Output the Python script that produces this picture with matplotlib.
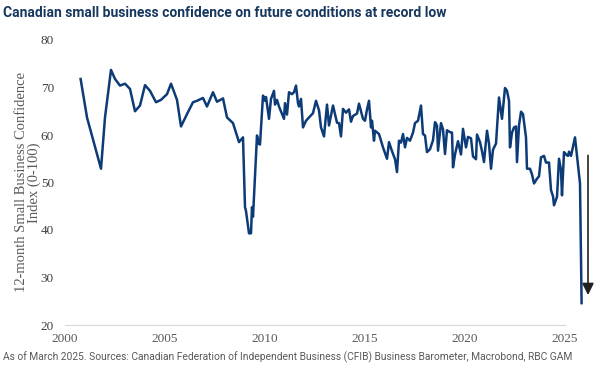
import matplotlib
matplotlib.use("Agg")
import matplotlib.pyplot as plt
import numpy as np

# ---- data (decimal year, index value) ----
years = [
    2000.78, 2001.1, 2001.8, 2002.0, 2002.3, 2002.5, 2002.75, 2003.0, 2003.25, 2003.5,
    2003.75, 2004.0, 2004.25, 2004.55, 2004.8, 2005.1, 2005.3, 2005.6, 2005.8, 2006.1,
    2006.4, 2006.6, 2006.9, 2007.1, 2007.4, 2007.6, 2007.9, 2008.1, 2008.4, 2008.7,
    2008.9, 2009.0, 2009.05, 2009.2, 2009.3, 2009.35, 2009.4, 2009.6, 2009.7, 2009.75,
    2009.9, 2010.0, 2010.05, 2010.2, 2010.3, 2010.45, 2010.5, 2010.6, 2010.7, 2010.95,
    2011.0, 2011.1, 2011.2, 2011.35, 2011.45, 2011.55, 2011.65, 2011.7, 2011.8, 2011.9,
    2012.05, 2012.2, 2012.4, 2012.55, 2012.7, 2012.8, 2012.95, 2013.1, 2013.2, 2013.4,
    2013.6, 2013.7, 2013.8, 2013.9, 2014.05, 2014.2, 2014.3, 2014.4, 2014.6, 2014.7,
    2014.9, 2015.0, 2015.1, 2015.2, 2015.3, 2015.35, 2015.45, 2015.5, 2015.7, 2015.9,
    2016.1, 2016.2, 2016.35, 2016.5, 2016.6, 2016.7, 2016.8, 2016.9, 2017.0, 2017.1,
    2017.25, 2017.4, 2017.5, 2017.65, 2017.8, 2017.9, 2018.0, 2018.1, 2018.25, 2018.4,
    2018.5, 2018.6, 2018.65, 2018.8, 2018.9, 2019.0, 2019.1, 2019.25, 2019.35, 2019.4,
    2019.5, 2019.65, 2019.8, 2019.9, 2020.05, 2020.15, 2020.3, 2020.4, 2020.55, 2020.6,
    2020.75, 2020.85, 2020.95, 2021.1, 2021.2, 2021.3, 2021.4, 2021.55, 2021.7, 2021.85,
    2022.0, 2022.1, 2022.2, 2022.25, 2022.35, 2022.45, 2022.55, 2022.6, 2022.7, 2022.8,
    2022.9, 2023.05, 2023.1, 2023.25, 2023.35, 2023.45, 2023.6, 2023.7, 2023.8, 2023.95,
    2024.05, 2024.2, 2024.3, 2024.4, 2024.45, 2024.6, 2024.7, 2024.8, 2024.85, 2024.95,
    2025.05, 2025.15, 2025.2, 2025.3, 2025.5, 2025.6, 2025.75, 2025.83,
]
confidence = [
    71.8, 63.7, 52.9, 63.7, 73.7, 71.8, 70.4, 70.8, 69.7, 65.0,
    66.2, 70.5, 69.3, 66.9, 67.4, 68.6, 70.8, 67.4, 61.8, 64.4,
    66.9, 67.2, 67.8, 66.0, 69.0, 67.0, 67.7, 63.7, 62.5, 58.5,
    59.5, 44.8, 44.0, 39.3, 39.3, 44.8, 42.8, 59.9, 58.1, 58.0,
    68.3, 67.2, 68.0, 63.4, 67.6, 69.3, 66.4, 67.4, 66.0, 63.4,
    66.7, 64.3, 69.0, 68.6, 69.0, 70.4, 66.7, 66.0, 67.6, 61.6,
    63.0, 63.7, 64.6, 67.2, 65.2, 61.6, 59.7, 66.4, 62.0, 66.2,
    62.6, 62.5, 59.7, 65.5, 64.7, 65.4, 62.8, 64.0, 64.5, 66.6,
    63.4, 63.0, 65.4, 67.2, 61.6, 63.0, 58.8, 60.9, 60.2, 57.4,
    55.0, 58.5, 56.6, 54.9, 52.2, 58.8, 58.4, 60.2, 57.4, 59.4,
    58.8, 60.5, 62.5, 63.0, 66.2, 60.2, 59.9, 56.4, 57.0, 58.9,
    62.7, 62.0, 56.7, 62.5, 61.2, 56.0, 61.0, 60.6, 60.5, 53.2,
    55.9, 58.7, 55.9, 61.3, 57.4, 59.6, 59.3, 55.5, 54.9, 60.1,
    58.5, 56.6, 54.3, 60.9, 58.2, 52.9, 56.9, 58.2, 67.9, 63.4,
    69.9, 69.3, 67.2, 57.4, 60.5, 61.6, 61.8, 54.3, 62.0, 64.9,
    64.4, 59.5, 52.9, 52.9, 51.7, 49.8, 50.8, 51.3, 55.3, 55.6,
    54.2, 54.2, 48.4, 47.1, 45.2, 47.0, 55.0, 52.6, 47.3, 56.4,
    55.9, 55.6, 56.5, 55.6, 59.5, 55.6, 49.8, 24.6,
]
x_ticks = [2000, 2005, 2010, 2015, 2020, 2025]
y_ticks = [20, 30, 40, 50, 60, 70, 80]

title = "Canadian small business confidence on future conditions at record low"
footnote = ("As of March 2025. Sources: Canadian Federation of Independent Business "
            "(CFIB) Business Barometer, Macrobond, RBC GAM")
ylabel = "12-month Small Business Confidence\nIndex (0-100)"

LINE = "#0d3b78"
GRAY = "#595959"
TITLE_C = "#17375e"

fig = plt.figure(figsize=(6.0, 3.71), dpi=100)
ax = fig.add_axes([65 / 600, 46 / 371, 534 / 600, 285 / 371])

ax.plot(years, confidence, color=LINE, lw=1.8, solid_joinstyle="round", clip_on=False)

ax.set_xlim(2000, 2026.7)
ax.set_ylim(20, 80)
ax.set_xticks(x_ticks)
ax.set_xticklabels([str(t) for t in x_ticks])
ax.set_yticks(y_ticks)
ax.set_yticklabels([str(t) for t in y_ticks])

for s in ["top", "right", "left"]:
    ax.spines[s].set_visible(False)
ax.spines["bottom"].set_color("#d9d9d9")
ax.spines["bottom"].set_linewidth(0.8)
ax.spines["bottom"].set_bounds(2000, 2025)

ax.tick_params(axis="both", length=0)
ax.tick_params(axis="y", pad=8)
ax.tick_params(axis="x", pad=6)
for lab in ax.get_xticklabels():
    lab.set_fontfamily("Liberation Serif")
    lab.set_fontsize(9.5)
    lab.set_color(GRAY)
for lab in ax.get_yticklabels():
    lab.set_fontfamily("Liberation Serif")
    lab.set_fontsize(9.5)
    lab.set_color("#404040")

ax.set_ylabel(ylabel, fontfamily="Liberation Serif", fontsize=10.5, color=GRAY,
              linespacing=0.95, labelpad=0)

# arrow annotation
ax.annotate("", xy=(2026.15, 26.3), xytext=(2026.15, 55.7),
            arrowprops=dict(arrowstyle="-|>,head_length=0.7,head_width=0.35",
                            color="#222222", lw=1.2, shrinkA=0, shrinkB=0),
            annotation_clip=False)

fig.text(3 / 600, 1 - 13 / 371, title, fontfamily="Roboto",
         fontweight="bold", fontsize=10, color=TITLE_C, ha="left", va="center")
fig.text(3 / 600, 1 - 357 / 371, footnote, fontfamily="Roboto", fontsize=7.35,
         color=GRAY, ha="left", va="center")

fig.savefig("out.png", dpi=100)
